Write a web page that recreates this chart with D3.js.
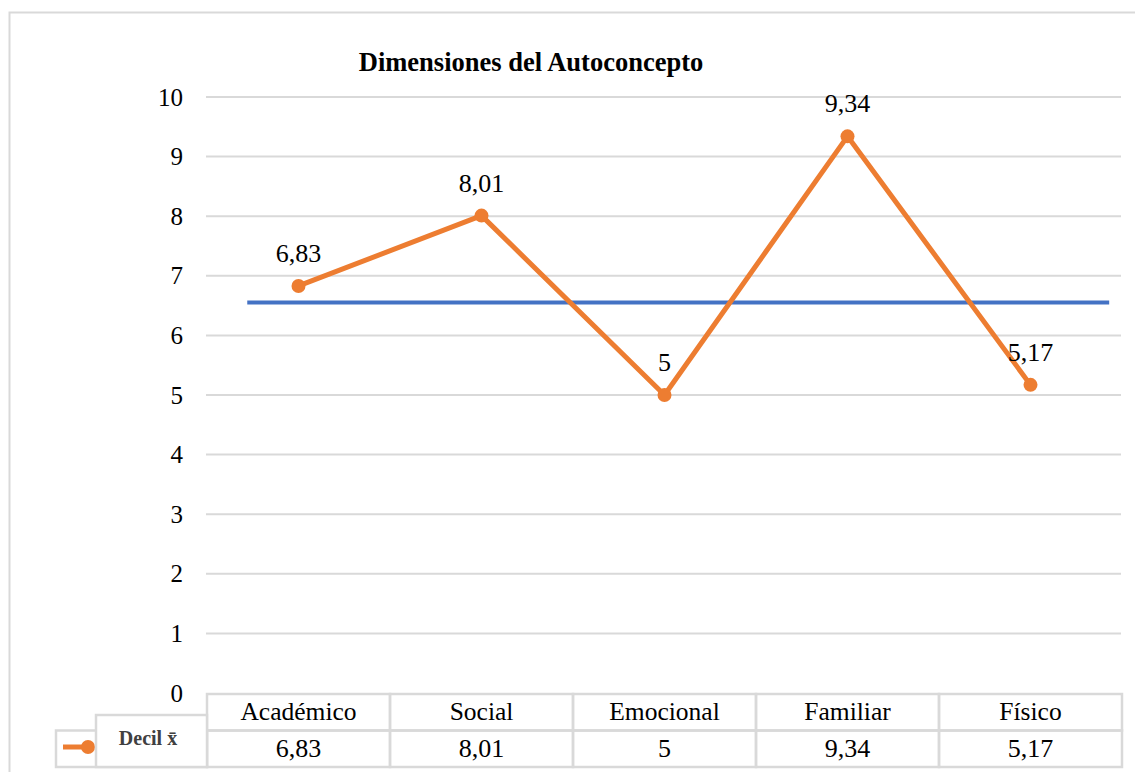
<!DOCTYPE html>
<html>
<head>
<meta charset="utf-8">
<script src="https://cdn.jsdelivr.net/npm/d3@7"></script>
<style>
  body { margin: 0; background: #fff; }
  svg { display: block; font-family: "Liberation Serif", "Times New Roman", serif; }
</style>
</head>
<body>
<div id="chart"></div>
<script>
/* DATA */
const categories = ["Académico", "Social", "Emocional", "Familiar", "Físico"];
const decilValues = [6.83, 8.01, 5, 9.34, 5.17];
const referenceValue = 6.55;
const yTicks = [0, 1, 2, 3, 4, 5, 6, 7, 8, 9, 10];
const seriesName = "Decil x\u0304";
const title = "Dimensiones del Autoconcepto";

const width = 1135, height = 772;
const margin = {top: 97, bottom: 79, left: 207, right: 13};
const fmt = v => String(v).replace(".", ",");
const serif = "Liberation Serif, Times New Roman, serif";

const svg = d3.select("#chart").append("svg")
  .attr("width", width)
  .attr("height", height)
  .attr("font-family", serif);

// outer chart frame
svg.append("rect")
  .attr("x", 9.5).attr("y", 12.5)
  .attr("width", width + 20).attr("height", height + 20)
  .attr("fill", "none").attr("stroke", "#d9d9d9").attr("stroke-width", 2);

// scales
const xScale = d3.scaleBand()
  .domain(categories)
  .range([margin.left, width - margin.right]);

const yScale = d3.scaleLinear()
  .domain([0, 10])
  .range([height - margin.bottom, margin.top]);

// gridlines
svg.append("g")
  .selectAll("line")
  .data(yTicks.filter(d => d > 0))
  .join("line")
  .attr("x1", margin.left - 1).attr("x2", width - margin.right - 1)
  .attr("y1", d => yScale(d)).attr("y2", d => yScale(d))
  .attr("stroke", "#d9d9d9").attr("stroke-width", 2);

// y axis labels
const yAxis = d3.axisLeft(yScale).tickValues(yTicks).tickSize(0).tickPadding(24);
const yAxisGroup = svg.append("g")
  .attr("transform", `translate(${margin.left},0)`)
  .attr("font-family", serif)
  .call(yAxis);
yAxisGroup.attr("font-family", serif);
yAxisGroup.select(".domain").remove();
yAxisGroup.selectAll("text")
  .attr("font-size", 25)
  .attr("fill", "#000");

// title
svg.append("text")
  .attr("x", 531).attr("y", 71)
  .attr("text-anchor", "middle")
  .attr("font-size", 26.5).attr("font-weight", "bold")
  .text(title);

// reference line
svg.append("line")
  .attr("x1", xScale(categories[0]) + xScale.bandwidth() * 0.22)
  .attr("x2", xScale(categories[categories.length - 1]) + xScale.bandwidth() * 0.93)
  .attr("y1", yScale(referenceValue)).attr("y2", yScale(referenceValue))
  .attr("stroke", "#4472c4").attr("stroke-width", 4);

// series line
const cx = d => xScale(d) + xScale.bandwidth() / 2;
const lineGen = d3.line()
  .x((d, i) => cx(categories[i]))
  .y(d => yScale(d));

svg.append("path")
  .datum(decilValues)
  .attr("d", lineGen)
  .attr("fill", "none")
  .attr("stroke", "#ed7d31").attr("stroke-width", 5)
  .attr("stroke-linejoin", "round");

svg.selectAll(".pt")
  .data(decilValues)
  .join("circle")
  .attr("class", "pt")
  .attr("cx", (d, i) => cx(categories[i]))
  .attr("cy", d => yScale(d))
  .attr("r", 7)
  .attr("fill", "#ed7d31");

svg.selectAll(".lbl")
  .data(decilValues)
  .join("text")
  .attr("class", "lbl")
  .attr("x", (d, i) => cx(categories[i]))
  .attr("y", d => yScale(d) - 24)
  .attr("text-anchor", "middle")
  .attr("font-size", 26)
  .text(d => fmt(d));

// data table
const y0 = yScale(0) + 1;
const rowH = 36.5;
const grid = "#d9d9d9";
const table = svg.append("g");

categories.forEach((c, i) => {
  table.append("rect")
    .attr("x", xScale(c)).attr("y", y0)
    .attr("width", xScale.bandwidth()).attr("height", rowH)
    .attr("fill", "none").attr("stroke", grid).attr("stroke-width", 2.5);
  table.append("rect")
    .attr("x", xScale(c)).attr("y", y0 + rowH)
    .attr("width", xScale.bandwidth()).attr("height", rowH)
    .attr("fill", "none").attr("stroke", grid).attr("stroke-width", 2.5);
  table.append("text")
    .attr("x", cx(c)).attr("y", y0 + 26)
    .attr("text-anchor", "middle").attr("font-size", 25.5)
    .text(c);
  table.append("text")
    .attr("x", cx(c)).attr("y", y0 + rowH + 26)
    .attr("text-anchor", "middle").attr("font-size", 26)
    .text(fmt(decilValues[i]));
});

// legend cell
table.append("rect")
  .attr("x", 56).attr("y", y0 + rowH)
  .attr("width", margin.left - 56).attr("height", rowH)
  .attr("fill", "none").attr("stroke", grid).attr("stroke-width", 2.5);
table.append("line")
  .attr("x1", 63).attr("x2", 88)
  .attr("y1", y0 + 53).attr("y2", y0 + 53)
  .attr("stroke", "#ed7d31").attr("stroke-width", 5);
table.append("circle")
  .attr("cx", 88).attr("cy", y0 + 53).attr("r", 7)
  .attr("fill", "#ed7d31");
table.append("rect")
  .attr("x", 96).attr("y", y0 + 21)
  .attr("width", margin.left - 96).attr("height", rowH * 2 - 21)
  .attr("fill", "#fff").attr("stroke", grid).attr("stroke-width", 2.5);
table.append("text")
  .attr("x", 148).attr("y", y0 + 51)
  .attr("text-anchor", "middle")
  .attr("font-size", 20).attr("font-weight", "bold").attr("fill", "#404040")
  .text(seriesName);
</script>
</body>
</html>
